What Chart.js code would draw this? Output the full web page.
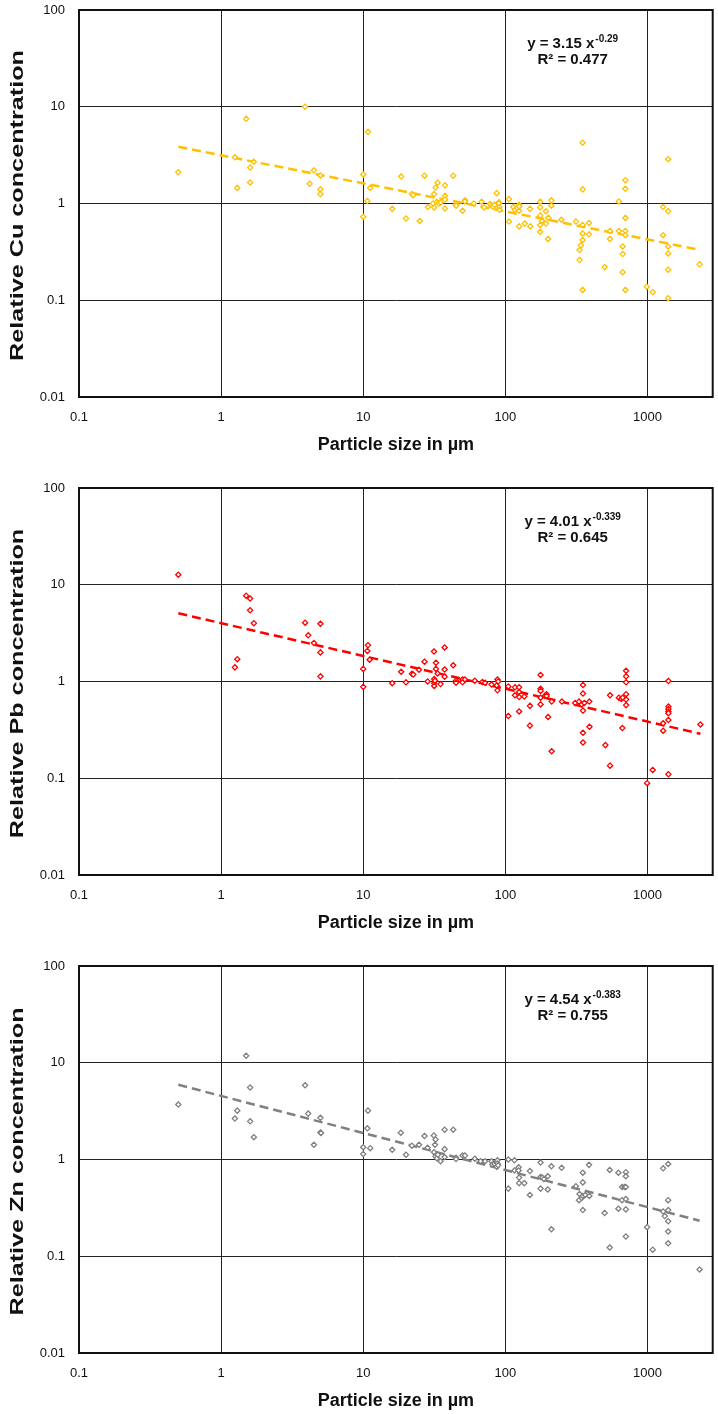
<!DOCTYPE html>
<html>
<head>
<meta charset="utf-8">
<script src="https://cdn.jsdelivr.net/npm/chart.js@4.4.1/dist/chart.umd.min.js"></script>
<style>
  body { margin: 0; background: #fff; }
  .panel { position: relative; width: 718px; height: 478px; }
  .panel.last { height: 458px; }
  canvas { display: block; }
</style>
</head>
<body>
<div class="panel"><canvas id="cu" width="718" height="478"></canvas></div>
<div class="panel"><canvas id="pb" width="718" height="478"></canvas></div>
<div class="panel last"><canvas id="zn" width="718" height="458"></canvas></div>

<script>
'use strict';

// ── Dati ───────────────────────────────────────────────────────
const xTicks = [0.1, 1, 10, 100, 1000];
const xTickLabels = ['0.1', '1', '10', '100', '1000'];
const yTicks = [0.01, 0.1, 1, 10, 100];
const yTickLabels = ['0.01', '0.1', '1', '10', '100'];

const cuX = [0.5, 1.25, 1.3, 1.5, 1.6, 1.6, 1.7, 3.9, 4.2, 4.5, 5, 5, 5,
  10, 10, 10.7, 10.8, 11.2, 16, 18.5, 20, 22, 22.5, 25, 27, 28.5, 31.5, 31.5, 31, 32.3,
  33, 33.4, 34, 35, 37.6, 37.6, 37.6, 37.6, 43, 45, 45, 50, 52, 52, 60, 68, 71, 78, 80,
  82, 84, 87, 90, 90, 91, 91, 106, 106, 114, 117, 121, 125, 125, 125, 125, 137, 149, 150,
  176, 176, 176, 176, 176, 181, 193, 193, 200, 201, 211, 211, 248, 314, 333, 333, 340,
  350, 350, 350, 350, 350, 350, 388, 388, 500, 545, 545, 630, 630, 670, 670, 670,
  700, 700, 700, 700, 700, 700, 990, 1090, 1290, 1290, 1400, 1400, 1400, 1400, 1400, 1400, 2330];
const cuY = [2.1, 3.0, 1.45, 7.5, 2.35, 1.65, 2.7, 10, 1.6, 2.2, 1.95, 1.4, 1.25,
  2.0, 0.73, 1.06, 5.5, 1.45, 0.88, 1.9, 0.70, 1.25, 1.22, 0.66, 1.94, 0.92, 1.25, 0.91, 1.0, 1.46,
  1.04, 1.64, 1.0, 1.02, 1.54, 1.2, 1.1, 0.89, 1.94, 0.98, 0.95, 0.84, 1.08, 1.05, 1.0, 1.04, 0.91, 0.99, 0.95,
  0.93, 0.97, 1.28, 1.03, 1.0, 0.92, 0.86, 1.11, 0.65, 0.92, 0.86, 0.9, 0.97, 0.93, 0.84, 0.58, 0.62, 0.88, 0.58,
  1.04, 0.91, 0.75, 0.6, 0.51, 0.66, 0.83, 0.62, 0.43, 0.71, 1.08, 0.95, 0.68, 0.65, 0.33, 0.26, 0.37,
  4.25, 1.4, 0.6, 0.49, 0.42, 0.128, 0.63, 0.48, 0.22, 0.52, 0.43, 1.05, 0.52, 0.36, 0.3, 0.195,
  1.74, 1.42, 0.71, 0.52, 0.47, 0.128, 0.138, 0.121, 0.92, 0.47, 2.87, 0.83, 0.36, 0.305, 0.207, 0.105, 0.235];

const pbX = [0.5, 1.25, 1.3, 1.5, 1.6, 1.6, 1.7, 3.9, 4.1, 4.5, 5, 5, 5,
  10, 10, 10.7, 10.8, 11.1, 16, 18.5, 20, 22, 22.5, 24.7, 27, 28.4, 31.5, 31.6, 31.6, 31.6,
  32, 32.5, 32.5, 33.4, 35, 37.4, 37.4, 37.4, 43, 45, 45, 50, 50, 52, 61, 69, 72, 80,
  87, 88, 88, 89, 105, 105, 117, 117, 125, 125, 125, 125, 136, 149, 149,
  177, 177, 177, 177, 177, 190, 195, 195, 200, 212, 212, 250, 310, 330, 345,
  352, 352, 352, 352, 352, 360, 390, 391, 506, 546, 546, 630, 655, 666, 670,
  708, 708, 708, 708, 708, 708, 995, 1090, 1290, 1290, 1405, 1405, 1405, 1405, 1405, 1405, 1405, 2360];
const pbY = [12.7, 1.4, 1.7, 7.7, 7.2, 5.45, 4.0, 4.05, 3.0, 2.5, 3.95, 2.0, 1.13,
  1.35, 0.88, 2.07, 2.37, 1.68, 0.96, 1.26, 0.98, 1.2, 1.18, 1.32, 1.6, 1.0, 2.04, 1.06, 0.96, 0.9,
  1.02, 1.56, 1.35, 1.21, 0.94, 2.25, 1.33, 1.12, 1.47, 1.02, 0.97, 1.05, 0.98, 1.05, 1.02, 0.99, 0.97, 0.93,
  0.91, 1.05, 0.81, 1.0, 0.89, 0.44, 0.87, 0.72, 0.87, 0.78, 0.69, 0.49, 0.70, 0.56, 0.35,
  1.17, 0.84, 0.8, 0.68, 0.58, 0.71, 0.74, 0.71, 0.43, 0.62, 0.19, 0.62, 0.6, 0.62, 0.58,
  0.92, 0.75, 0.5, 0.295, 0.234, 0.6, 0.62, 0.34, 0.22, 0.72, 0.135, 0.68, 0.66, 0.33, 0.68,
  1.29, 1.13, 0.98, 0.74, 0.65, 0.57, 0.089, 0.122, 0.37, 0.31, 1.01, 0.55, 0.52, 0.49, 0.47, 0.40, 0.11, 0.36];

const znX = [0.5, 1.25, 1.3, 1.5, 1.6, 1.6, 1.7, 3.9, 4.1, 4.5, 5, 5, 5.05,
  10, 10, 10.7, 10.8, 11.2, 16, 18.4, 20, 22, 24.7, 27, 28.4, 31.4, 31.5, 32, 32.3, 32.3,
  33, 33.5, 35, 37.4, 37.4, 37.4, 43, 45, 45, 50, 52, 61, 67, 72, 80, 81, 84, 87, 88, 88, 89,
  105, 105, 116, 116, 124, 124, 125, 125, 136, 149, 149, 177, 177, 177, 182, 187, 199, 199,
  211, 211, 249, 314, 330, 333, 345, 351, 351, 351, 351, 365, 388, 390, 500, 543, 543,
  625, 625, 663, 663, 690, 705, 705, 705, 705, 705, 705, 995, 1090, 1290, 1290, 1325,
  1400, 1400, 1400, 1400, 1400, 1400, 2330];
const znY = [3.7, 2.65, 3.2, 11.8, 5.55, 2.48, 1.7, 5.85, 2.98, 1.42, 2.7, 1.9, 1.88,
  1.34, 1.14, 2.1, 3.2, 1.31, 1.26, 1.89, 1.12, 1.39, 1.42, 1.75, 1.32, 1.77, 1.19, 1.42, 1.61, 1.08,
  1.03, 1.12, 0.96, 2.03, 1.28, 1.06, 2.03, 1.04, 1.01, 1.1, 1.1, 1.02, 0.96, 0.96, 0.96, 0.89, 0.9, 0.84, 0.98, 0.91, 0.87,
  1.0, 0.5, 0.98, 0.77, 0.83, 0.77, 0.65, 0.57, 0.57, 0.76, 0.43, 0.93, 0.66, 0.5, 0.65, 0.63, 0.67, 0.49,
  0.85, 0.19, 0.82, 0.53, 0.38, 0.44, 0.40, 0.73, 0.58, 0.42, 0.3, 0.43, 0.88, 0.42, 0.28, 0.78, 0.123,
  0.73, 0.31, 0.52, 0.38, 0.52, 0.74, 0.67, 0.52, 0.39, 0.305, 0.16, 0.2, 0.117, 0.81, 0.29, 0.26,
  0.9, 0.38, 0.3, 0.23, 0.18, 0.136, 0.073];

// coefficienti della regressione di potenza, come stampati sul grafico
const fitA = [3.15, 4.01, 4.54];
const fitB = [-0.29, -0.339, -0.383];
const fitR2 = ['0.477', '0.645', '0.755'];

const FONT = '"Liberation Sans", Arial, sans-serif';
Chart.defaults.font.family = FONT;
Chart.defaults.color = '#111';

// cornice, titolo asse y (allungato come nell'originale) ed equazione
const extras = {
  id: 'extras',
  afterDraw(chart, args, opts) {
    const { ctx, chartArea: a } = chart;
    ctx.save();
    ctx.strokeStyle = '#111';
    ctx.lineWidth = 2;
    ctx.strokeRect(a.left, a.top, a.right - a.left, a.bottom - a.top);

    // titolo asse y
    ctx.save();
    ctx.translate(18.5, (a.top + a.bottom) / 2 + 2);
    ctx.rotate(-Math.PI / 2);
    ctx.scale(1.4, 1);
    ctx.font = 'bold 18px ' + FONT;
    ctx.fillStyle = '#111';
    ctx.textAlign = 'center';
    ctx.textBaseline = 'middle';
    ctx.fillText(opts.title, 0, 0);
    ctx.restore();

    // equazione
    const cx = a.left + (a.right - a.left) * 0.779;
    const main = opts.eq;
    const sup = opts.sup;
    ctx.font = 'bold 15px ' + FONT;
    const wMain = ctx.measureText(main).width;
    ctx.font = 'bold 10px ' + FONT;
    const wSup = ctx.measureText(sup).width;
    const x0 = cx - (wMain + wSup + 1) / 2;
    ctx.fillStyle = '#111';
    ctx.textAlign = 'left';
    ctx.textBaseline = 'middle';
    ctx.font = 'bold 15px ' + FONT;
    ctx.fillText(main, x0, a.top + 34);
    ctx.font = 'bold 10px ' + FONT;
    ctx.fillText(sup, x0 + wMain + 1, a.top + 29);
    ctx.font = 'bold 15px ' + FONT;
    ctx.textAlign = 'center';
    ctx.fillText(opts.r2, cx, a.top + 50);
    ctx.restore();
  }
};

function punti(xs, ys) {
  return xs.map((x, i) => ({ x: x, y: ys[i] }));
}

function trend(xs, a, b) {
  const lo = Math.min(...xs), hi = Math.max(...xs);
  return [{ x: lo, y: a * Math.pow(lo, b) }, { x: hi, y: a * Math.pow(hi, b) }];
}

function disegna(id, xs, ys, k, colore, metallo) {
  new Chart(document.getElementById(id), {
    type: 'scatter',
    data: {
      datasets: [{
        data: punti(xs, ys),
        pointStyle: 'rectRot',
        pointRadius: 2.6,
        pointBorderWidth: 1.3,
        borderColor: colore,
        backgroundColor: '#fff'
      }, {
        data: trend(xs, fitA[k], fitB[k]),
        showLine: true,
        pointRadius: 0,
        borderColor: colore,
        borderWidth: 2.5,
        borderDash: [9, 5]
      }]
    },
    plugins: [extras],
    options: {
      responsive: false,
      animation: false,
      layout: { padding: { top: 10, left: 0, right: 5, bottom: id === 'zn' ? 1 : 21 } },
      plugins: {
        legend: { display: false },
        tooltip: { enabled: false },
        extras: {
          title: 'Relative ' + metallo + ' concentration',
          eq: 'y = ' + fitA[k].toFixed(2) + ' x',
          sup: String(fitB[k]),
          r2: 'R² = ' + fitR2[k]
        }
      },
      scales: {
        x: {
          type: 'logarithmic',
          min: 0.1,
          max: 2880,
          afterBuildTicks: s => { s.ticks = xTicks.map(v => ({ value: v })); },
          afterFit: s => { s.height = 60; },
          ticks: {
            callback: (v, i) => xTickLabels[i],
            font: { size: 13 },
            padding: 13,
            autoSkip: false,
            maxRotation: 0
          },
          grid: { color: '#222', lineWidth: 1, drawTicks: false },
          border: { color: '#111', width: 2 },
          title: {
            display: true,
            text: 'Particle size in µm',
            font: { size: 18, weight: 'bold' },
            padding: { top: 0, bottom: 1 }
          }
        },
        y: {
          type: 'logarithmic',
          min: 0.01,
          max: 100,
          afterBuildTicks: s => { s.ticks = yTicks.map(v => ({ value: v })); },
          afterFit: s => { s.width = 79; s.paddingTop = 0; s.paddingBottom = 0; },
          ticks: {
            callback: (v, i) => yTickLabels[i],
            font: { size: 13 },
            padding: 14,
            autoSkip: false
          },
          grid: { color: '#222', lineWidth: 1, drawTicks: false },
          border: { color: '#111', width: 2 }
        }
      }
    }
  });
}

disegna('cu', cuX, cuY, 0, '#FFC000', 'Cu');
disegna('pb', pbX, pbY, 1, '#FF0000', 'Pb');
disegna('zn', znX, znY, 2, '#808080', 'Zn');
</script>
</body>
</html>
